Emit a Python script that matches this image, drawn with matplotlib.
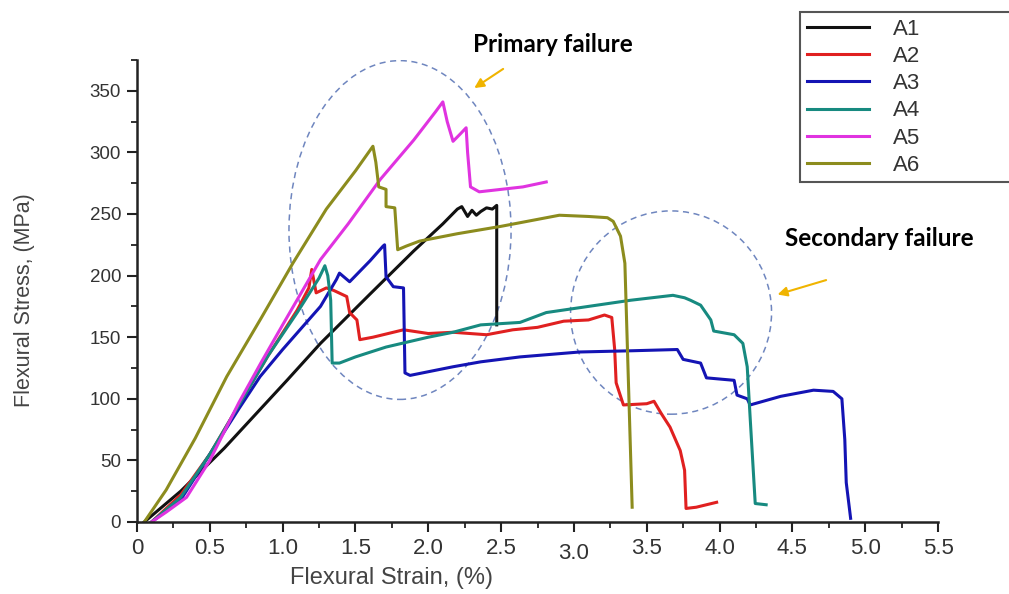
import matplotlib
matplotlib.use('Agg')
import matplotlib.pyplot as plt
from matplotlib.patches import Ellipse

# strain (%) / stress (MPa)
a1_x = [0.05, 0.3, 0.6, 1.03, 1.26, 1.6, 1.9, 2.1, 2.2, 2.23, 2.27, 2.3, 2.33, 2.36, 2.4, 2.44, 2.47, 2.47]
a1_y = [0, 25, 60, 115, 145, 185, 220, 242, 254, 256, 248, 253, 249, 252, 255, 254, 257, 160]

a2_x = [0.1, 0.3, 0.5, 0.7, 0.9, 1.1, 1.18, 1.2, 1.23, 1.3, 1.35, 1.44, 1.46, 1.51, 1.53, 1.62, 1.83, 2.0,
        2.17, 2.4, 2.58, 2.75, 2.93, 3.1, 3.21, 3.26, 3.28, 3.29, 3.34, 3.5, 3.55, 3.6, 3.66, 3.73, 3.76,
        3.77, 3.84, 3.98]
a2_y = [0, 22, 55, 95, 135, 172, 190, 205, 186, 190, 188, 183, 170, 164, 148, 150, 156, 153,
        154, 152, 156, 158, 163, 164, 168, 166, 140, 113, 95, 96, 98, 88, 77, 58, 42,
        11, 12, 16]

a3_x = [0.1, 0.3, 0.5, 0.7, 0.845, 1.0, 1.26, 1.37, 1.39, 1.46, 1.6, 1.69, 1.70, 1.71, 1.76, 1.83, 1.84, 1.875,
        2.17, 2.36, 2.63, 3.04, 3.4, 3.71, 3.75, 3.87, 3.91, 4.10, 4.12, 4.19, 4.21, 4.42, 4.645, 4.78, 4.84,
        4.86, 4.87, 4.90]
a3_y = [0, 18, 55, 92, 118, 140, 175, 197, 202, 195, 212, 224, 225, 199, 191, 190, 121, 119,
        126, 130, 134, 138, 139, 140, 132, 129, 117, 115, 103, 100, 95, 102, 107, 106, 100,
        67, 32, 3]

a4_x = [0.1, 0.3, 0.5, 0.7, 0.9, 1.1, 1.25, 1.29, 1.31, 1.33, 1.34, 1.39, 1.5, 1.71, 2.0, 2.17, 2.36, 2.63,
        2.81, 3.1, 3.39, 3.68, 3.76, 3.80, 3.87, 3.94, 3.96, 4.10, 4.16, 4.19, 4.21, 4.23, 4.245, 4.32]
a4_y = [0, 20, 55, 95, 135, 170, 198, 208, 200, 180, 129, 129, 134, 142, 150, 154, 160, 162,
        170, 175, 180, 184, 182, 180, 176, 164, 155, 152, 145, 126, 85, 45, 15, 14]

a5_x = [0.1, 0.2, 0.34, 0.5, 0.7, 0.85, 1.0, 1.26, 1.45, 1.67, 1.9, 2.05, 2.1, 2.13, 2.17, 2.22, 2.26, 2.27,
        2.29, 2.35, 2.5, 2.65, 2.81]
a5_y = [0, 8, 20, 50, 97, 129, 160, 213, 242, 278, 310, 333, 341, 325, 309, 315, 320, 300,
        272, 268, 270, 272, 276]

a6_x = [0.05, 0.2, 0.4, 0.616, 0.85, 1.07, 1.3, 1.5, 1.62, 1.64, 1.66, 1.71, 1.71, 1.77, 1.79, 1.85, 1.94,
        2.2, 2.5, 2.9, 3.1, 3.23, 3.27, 3.32, 3.35, 3.40]
a6_y = [0, 26, 68, 118, 165, 210, 254, 285, 305, 292, 272, 270, 256, 255, 221, 224, 228,
        234, 240, 249, 248, 247, 244, 232, 210, 12]

names = ['A1', 'A2', 'A3', 'A4', 'A5', 'A6']
xs = [a1_x, a2_x, a3_x, a4_x, a5_x, a6_x]
ys = [a1_y, a2_y, a3_y, a4_y, a5_y, a6_y]
colors = ['#111111', '#e02020', '#1414b4', '#178a80', '#e033e0', '#8c8c1e']

xticks = [0, 0.5, 1.0, 1.5, 2.0, 2.5, 3.0, 3.5, 4.0, 4.5, 5.0, 5.5]
xticklabels = ['0', '0.5', '1.0', '1.5', '2.0', '2.5', '3.0', '3.5', '4.0', '4.5', '5.0', '5.5']
yticks = [0, 50, 100, 150, 200, 250, 300, 350]

plt.rcParams['font.family'] = ['Liberation Sans', 'DejaVu Sans']

fig = plt.figure(figsize=(10.09, 5.94), dpi=100)
ax = fig.add_axes([137 / 1009, 72 / 594, 801 / 1009, 462 / 594])

for x, y, c, n in zip(xs, ys, colors, names):
    ax.plot(x, y, color=c, lw=2.2, label=n, solid_joinstyle='round')

ax.set_xlim(0, 5.5)
ax.set_ylim(0, 375)
ax.set_xticks(xticks)
ax.set_xticklabels(xticklabels, fontsize=16, color='#333333')
ax.set_xticks([i * 0.25 for i in range(23)], minor=True)
ax.set_yticks(yticks)
ax.set_yticklabels([str(v) for v in yticks], fontsize=13.5, color='#444444')
ax.set_yticks([i * 25 for i in range(16)], minor=True)
ax.tick_params(which='major', length=7, width=1.5, direction='out', colors='#222222', labelcolor='#333333', pad=4.5)
ax.tick_params(which='minor', length=4, width=1.3, direction='out', colors='#222222')
ax.xaxis.get_major_ticks()[6].set_pad(8)

for s in ['top', 'right']:
    ax.spines[s].set_visible(False)
for s in ['left', 'bottom']:
    ax.spines[s].set_linewidth(1.8)
    ax.spines[s].set_color('#222222')

fig.text(25 / 1009, 1 - 300 / 594, 'Flexural Stress, (MPa)', rotation=90, ha='center', va='center',
         fontsize=15.5, color='#444444')
fig.text(392 / 1009, 1 - 578 / 594, 'Flexural Strain, (%)', ha='center', va='center',
         fontsize=17, color='#444444')

# dashed failure regions
ax.add_patch(Ellipse((1.806, 237), 1.525, 275, fill=False, ls=(0, (4, 3)), lw=1.1, ec='#6f86bf'))
ax.add_patch(Ellipse((3.667, 170), 1.38, 165, fill=False, ls=(0, (4, 3)), lw=1.1, ec='#6f86bf'))

fig.text(553 / 1009, 1 - 45 / 594, 'Primary failure', ha='center', va='center', fontsize=17.5,
         fontweight='bold', family=['Lato', 'DejaVu Sans'])
fig.text(879 / 1009, 1 - 238 / 594, 'Secondary failure', ha='center', va='center', fontsize=17.5,
         fontweight='bold', family=['Lato', 'DejaVu Sans'])
ax.annotate('', xy=(2.30, 351), xytext=(2.53, 369), annotation_clip=False,
            arrowprops=dict(arrowstyle='-|>', color='#f0b400', lw=1.5, mutation_scale=14))
ax.annotate('', xy=(4.38, 184), xytext=(4.75, 197), annotation_clip=False,
            arrowprops=dict(arrowstyle='-|>', color='#f0b400', lw=1.5, mutation_scale=14))

leg = ax.legend(loc='upper left', bbox_to_anchor=(800 / 1009, 1 - 182 / 594, 0.26, 170 / 594),
                bbox_transform=fig.transFigure, mode='expand', fontsize=16, handlelength=2.8,
                handletextpad=1.1, labelspacing=0.28, borderpad=0.3, borderaxespad=0, fancybox=False,
                edgecolor='#555555', framealpha=1)
leg.get_frame().set_linewidth(1.5)
for t in leg.get_texts():
    t.set_color('#333333')

fig.savefig('out.png', dpi=100)
